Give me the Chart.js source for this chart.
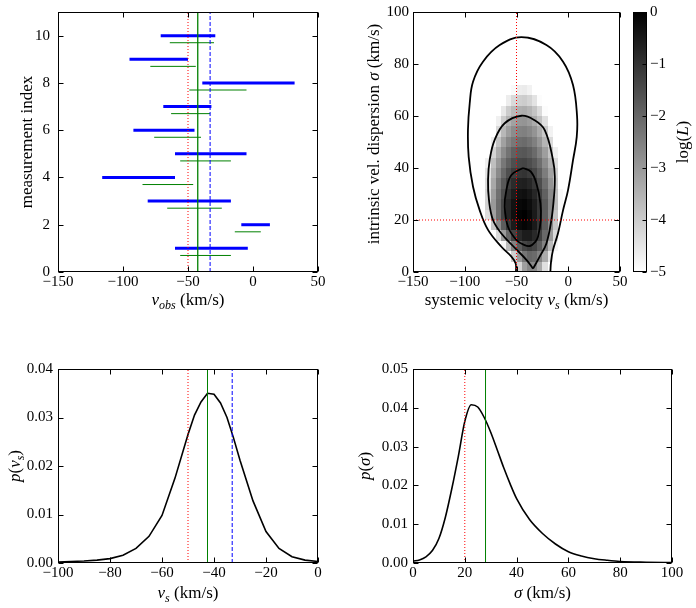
<!DOCTYPE html>
<html>
<head>
<meta charset="utf-8">
<script src="https://cdn.jsdelivr.net/npm/chart.js@4.4.0/dist/chart.umd.min.js"></script>
<style>
  body { margin: 0; background: #fff; }
  #wrap { position: relative; width: 696px; height: 608px; }
  canvas { position: absolute; }
</style>
</head>
<body>
<div id="wrap">
  <canvas id="cObs" width="330" height="310" style="left:0;top:0"></canvas>
  <canvas id="cLike" width="280" height="310" style="left:350px;top:0"></canvas>
  <canvas id="cBar" width="66" height="310" style="left:630px;top:0"></canvas>
  <canvas id="cVs" width="330" height="268" style="left:0;top:340px"></canvas>
  <canvas id="cSig" width="346" height="268" style="left:350px;top:340px"></canvas>
</div>
<script>
// ---------------- data ----------------
// reference values
const trueVs = -50;
const meanVs = -42.5;
const medianVs = -33;
const trueSigma = 20;
const meanSigma = 28;

// measurements (blue = observed interval, green = second estimate)
const blueY  = [1, 2, 3, 4, 5, 6, 7, 8, 9, 10];
const blueLo = [-60, -9, -81, -116, -60, -92, -69, -39, -95, -71];
const blueHi = [-4, 13, -17, -60, -5, -45, -32, 32, -50, -29];
const greenY  = [0.7, 1.7, 2.7, 3.7, 4.7, 5.7, 6.7, 7.7, 8.7, 9.7];
const greenLo = [-56, -14, -66, -85, -56, -76, -63, -49, -79, -64];
const greenHi = [-17, 6, -24, -46, -17, -40, -33, -5, -44, -30];

// likelihood map: cells of 5 km/s (vs) by 4 km/s (sigma), log(L)
const heatVs  = [-80, -75, -70, -65, -60, -55, -50, -45, -40, -35, -30, -25, -20, -15, -10];
const heatSig = [0, 4, 8, 12, 16, 20, 24, 28, 32, 36, 40, 44, 48, 52, 56, 60, 64, 68];
const heatDv = 5, heatDs = 4;
const logL = [
  [-5,-5,-5,-5,-5,-5,-4.15,-3.1,-2.65,-2.7,-3.3,-4.4,-5,-5,-5],
  [-5,-5,-5,-5,-5,-4.05,-3.0,-2.3,-2.0,-2.1,-2.55,-3.35,-4.55,-5,-5],
  [-5,-5,-5,-4.8,-3.65,-2.55,-1.8,-1.35,-1.2,-1.35,-1.8,-2.55,-3.65,-4.8,-5],
  [-5,-5,-4.3,-3.05,-2.05,-1.3,-0.8,-0.55,-0.55,-0.8,-1.3,-2.05,-3.05,-4.3,-5],
  [-5,-3.9,-2.75,-1.8,-1.05,-0.5,-0.2,-0.1,-0.2,-0.5,-1.05,-1.8,-2.75,-3.9,-5],
  [-4.35,-3.15,-2.15,-1.3,-0.7,-0.3,-0.05,0,-0.15,-0.5,-1.05,-1.8,-2.7,-3.85,-5],
  [-4.1,-3.0,-2.1,-1.35,-0.75,-0.35,-0.15,-0.1,-0.25,-0.55,-1.05,-1.75,-2.6,-3.65,-4.85],
  [-4.15,-3.1,-2.2,-1.5,-0.95,-0.55,-0.35,-0.3,-0.45,-0.75,-1.25,-1.9,-2.7,-3.7,-4.85],
  [-4.3,-3.3,-2.4,-1.75,-1.2,-0.85,-0.65,-0.6,-0.75,-1.05,-1.5,-2.15,-2.9,-3.9,-5],
  [-4.45,-3.5,-2.7,-2.05,-1.55,-1.2,-1.05,-1.0,-1.15,-1.4,-1.85,-2.45,-3.15,-4.05,-5],
  [-4.7,-3.75,-3.0,-2.35,-1.9,-1.55,-1.4,-1.35,-1.5,-1.75,-2.15,-2.75,-3.45,-4.3,-5],
  [-5,-4.15,-3.35,-2.75,-2.25,-1.9,-1.75,-1.7,-1.85,-2.1,-2.55,-3.1,-3.85,-4.7,-5],
  [-5,-4.65,-3.8,-3.15,-2.65,-2.35,-2.15,-2.1,-2.25,-2.5,-2.95,-3.55,-4.3,-5,-5],
  [-5,-5,-4.25,-3.6,-3.1,-2.75,-2.55,-2.5,-2.65,-2.9,-3.35,-3.95,-4.75,-5,-5],
  [-5,-5,-4.7,-4.0,-3.5,-3.15,-2.95,-2.9,-3.05,-3.35,-3.8,-4.4,-5,-5,-5],
  [-5,-5,-5,-4.55,-4.0,-3.65,-3.45,-3.4,-3.55,-3.85,-4.3,-4.95,-5,-5,-5],
  [-5,-5,-5,-5,-4.65,-4.25,-4.05,-4.0,-4.15,-4.45,-4.95,-5,-5,-5,-5],
  [-5,-5,-5,-5,-5,-4.9,-4.65,-4.6,-4.75,-5,-5,-5,-5,-5,-5]
];

// contours [vs, sigma]
const outerContour = [[-50.5,0],[-50.8,3.3],[-54.9,5.9],[-64.6,9.7],[-77.5,16.2],[-85.6,23.8],[-92,32.8],
  [-96.2,44.3],[-96.9,54.6],[-95.2,64.9],[-92,73.2],[-82.4,80.9],[-66.2,87.3],[-45.3,90.3],[-21.1,87.3],
  [-5,80.9],[4.6,71.9],[8.5,60],[8.2,52],[4.6,43],[-0.2,31.5],[-5,23.8],[-9.9,14.9],[-14.7,8.5],[-16.6,4],[-17.3,0]];
const midContour = [[-34,1.3],[-40,4.5],[-53.4,10],[-64,14.5],[-72.7,20],[-76.6,27.7],[-77.5,35.4],[-75.9,43.1],
  [-71.1,50.8],[-61.4,57.2],[-45.3,60.1],[-33,58.5],[-22.7,54.6],[-14.7,43],[-13,36.7],[-13.8,29],[-16.3,20],
  [-21.1,11],[-27.6,5.9],[-34,1.3]];
const innerContour = [[-43.7,40],[-54.9,37.3],[-59.8,31.5],[-61.4,25.1],[-58.2,17.4],[-50.1,12.3],[-43,10.5],
  [-37,10],[-32,11.5],[-29.2,13.6],[-26.6,20],[-26.9,26.4],[-30.8,34.1],[-36,38.5],[-43.7,40]];

// marginal of vs
const vsGrid = [-100,-95,-90,-85,-80,-75,-70,-65,-60,-55,-50,-47.5,-45,-42.5,-40,-37.5,-35,-32.5,-30,-25,-20,-15,-10,-5,0];
const pVs = [0.0002,0.0003,0.0004,0.0006,0.0009,0.0016,0.0030,0.0055,0.0098,0.0175,0.0265,0.0305,0.0332,0.0350,
  0.0348,0.0330,0.0300,0.0258,0.0212,0.0128,0.0065,0.0030,0.0013,0.0006,0.0003];

// marginal of sigma
const sigGrid = [0,2.5,5,7.5,10,12.5,15,17.5,20,22.5,25,27.5,30,32.5,35,37.5,40,45,50,55,60,65,70,75,80,90,100];
const pSig = [0.0005,0.0008,0.0016,0.0032,0.0063,0.0118,0.0192,0.0275,0.0365,0.0408,0.0402,0.0375,0.0337,0.0292,
  0.0246,0.0204,0.0166,0.0112,0.0076,0.0049,0.0029,0.0018,0.0011,0.0007,0.0004,0.0002,0.0001];

// tick labels
const obsXTicks = [-150, -100, -50, 0, 50];
const obsYTicks = [0, 2, 4, 6, 8, 10];
const likeYTicks = [0, 20, 40, 60, 80, 100];
const barTicks = [-5, -4, -3, -2, -1, 0];
const vsXTicks = [-100, -80, -60, -40, -20, 0];
const vsYTicks = [0, 0.01, 0.02, 0.03, 0.04];
const sigXTicks = [0, 20, 40, 60, 80, 100];
const sigYTicks = [0, 0.01, 0.02, 0.03, 0.04, 0.05];

// ---------------- helpers ----------------
Chart.defaults.font.family = "'Liberation Serif', serif";
Chart.defaults.font.size = 15;
Chart.defaults.color = '#000';
Chart.defaults.animation = false;
Chart.defaults.responsive = false;
Chart.defaults.devicePixelRatio = 1;
Chart.defaults.plugins.legend.display = false;
Chart.defaults.plugins.tooltip.enabled = false;

const RED = '#ff0000', GREEN = '#008000', BLUE = '#0000ff';
const minus = s => String(s).replace('-', '\u2212');

function axis(min, max, ticks, fmt, pad, fitSize, extra) {
  return Object.assign({
    type: 'linear', min: min, max: max,
    grid: { display: false, drawTicks: false },
    border: { display: false },
    ticks: { padding: pad, maxRotation: 0, autoSkip: false, callback: v => minus(fmt(v)) },
    afterBuildTicks: s => { s.ticks = ticks.map(v => ({ value: v })); },
    afterFit: s => {
      if (s.isHorizontal()) s.height = fitSize; else s.width = fitSize;
      // keep the plot area where the layout puts it
      s.paddingTop = s.paddingBottom = s.paddingLeft = s.paddingRight = 0;
    }
  }, extra || {});
}

function lineDs(pts, color, width, dash, extra) {
  return Object.assign({
    data: pts, borderColor: color, borderWidth: width, borderDash: dash || [],
    showLine: true, pointRadius: 0, fill: false, tension: 0
  }, extra || {});
}
const seg = (x0, x1, y0, y1) => [{ x: x0, y: y0 }, { x: x1, y: y1 }];
const toPts = arr => arr.map(p => ({ x: p[0], y: p[1] }));

function drawRich(ctx, segs, x, y, rot) {
  const font = st => (st.includes('i') ? 'italic ' : '') + (st.includes('s') ? 12 : 17) + "px 'Liberation Serif'";
  ctx.save();
  ctx.translate(x, y);
  if (rot) ctx.rotate(-Math.PI / 2);
  let w = 0;
  segs.forEach(([t, st]) => { ctx.font = font(st); w += ctx.measureText(t).width; });
  let cx = -w / 2;
  ctx.fillStyle = '#000';
  ctx.textBaseline = 'alphabetic';
  segs.forEach(([t, st]) => {
    ctx.font = font(st);
    ctx.fillText(t, cx, st.includes('s') ? 9 : 5);
    cx += ctx.measureText(t).width;
  });
  ctx.restore();
}

// frame with inward ticks + axis titles
function decor(cfg) {
  return {
    id: 'decor',
    afterDatasetsDraw(chart) {
      const { ctx, chartArea: a, scales } = chart;
      const L = Math.round(a.left) + 0.5, R = Math.round(a.right) - 0.5;
      const T = Math.round(a.top) + 0.5, B = Math.round(a.bottom) - 0.5;
      ctx.save();
      ctx.strokeStyle = '#000';
      ctx.lineWidth = 1;
      ctx.strokeRect(L, T, R - L, B - T);
      ctx.beginPath();
      const tl = cfg.tick || 5;
      if (scales.x.options.display !== false) {
        scales.x.ticks.forEach(t => {
          const p = Math.round(scales.x.getPixelForValue(t.value)) + 0.5;
          ctx.moveTo(p, B); ctx.lineTo(p, B - tl);
          ctx.moveTo(p, T); ctx.lineTo(p, T + tl);
        });
      }
      scales.y.ticks.forEach(t => {
        const p = Math.round(scales.y.getPixelForValue(t.value)) + 0.5;
        if (!cfg.rightOnly) { ctx.moveTo(L, p); ctx.lineTo(L + tl, p); }
        ctx.moveTo(R, p); ctx.lineTo(R - tl, p);
      });
      ctx.stroke();
      ctx.restore();
      const cxm = (a.left + a.right) / 2, cym = (a.top + a.bottom) / 2 + (cfg.yOff || 0);
      if (cfg.xl) drawRich(ctx, cfg.xl, cxm, a.bottom + cfg.xdy, false);
      if (cfg.yl) drawRich(ctx, cfg.yl, cfg.right ? a.right + cfg.ydx : a.left - cfg.ydx, cym, true);
    }
  };
}

// likelihood cells
const heat = {
  id: 'heat',
  beforeDatasetsDraw(chart) {
    const { ctx, chartArea: a, scales: { x, y } } = chart;
    ctx.save();
    ctx.beginPath();
    ctx.rect(a.left, a.top, a.width, a.height);
    ctx.clip();
    logL.forEach((row, j) => row.forEach((v, i) => {
      if (v <= -5) return;
      const g = Math.round(255 * Math.min(1, -v / 5));
      const x0 = Math.round(x.getPixelForValue(heatVs[i]));
      const x1 = Math.round(x.getPixelForValue(heatVs[i] + heatDv));
      const y0 = Math.round(y.getPixelForValue(heatSig[j]));
      const y1 = Math.round(y.getPixelForValue(heatSig[j] + heatDs));
      ctx.fillStyle = 'rgb(' + g + ',' + g + ',' + g + ')';
      ctx.fillRect(x0, y1, x1 - x0, y0 - y1);
    }));
    ctx.restore();
  }
};

// colour bar gradient
const barFill = {
  id: 'barFill',
  beforeDatasetsDraw(chart) {
    const { ctx, chartArea: a, scales: { y } } = chart;
    const g = ctx.createLinearGradient(0, y.getPixelForValue(-5), 0, y.getPixelForValue(0));
    g.addColorStop(0, '#ffffff');
    g.addColorStop(1, '#000000');
    ctx.save();
    ctx.fillStyle = g;
    ctx.fillRect(a.left, a.top, a.width, a.height);
    ctx.restore();
  }
};

const asInt = v => String(v);
const two = v => v.toFixed(2);

// ---------------- top left: measurements ----------------
new Chart(document.getElementById('cObs'), {
  type: 'scatter',
  data: {
    datasets: [
      lineDs(seg(trueVs, trueVs, 0, 11), RED, 1, [1, 2]),
      lineDs(seg(meanVs, meanVs, 0, 11), GREEN, 1.3),
      lineDs(seg(medianVs, medianVs, 0, 11), BLUE, 1, [4, 2]),
      ...blueY.map((y, i) => lineDs(seg(blueLo[i], blueHi[i], y, y), BLUE, 3)),
      ...greenY.map((y, i) => lineDs(seg(greenLo[i], greenHi[i], y, y), GREEN, 1))
    ]
  },
  options: {
    layout: { padding: { left: 0, right: 12, top: 12, bottom: 0 } },
    scales: {
      x: axis(-150, 50, obsXTicks, asInt, 1, 38),
      y: axis(0, 11, obsYTicks, asInt, 8, 58)
    }
  },
  plugins: [decor({
    xl: [['v', 'i'], ['obs', 'is'], [' (km/s)', '']], xdy: 28,
    yl: [['measurement index', '']], ydx: 31
  })]
});

// ---------------- top right: likelihood ----------------
new Chart(document.getElementById('cLike'), {
  type: 'scatter',
  data: {
    datasets: [
      lineDs(seg(trueVs, trueVs, 0, 100), RED, 1, [1, 2]),
      lineDs(seg(-150, 50, trueSigma, trueSigma), RED, 1, [1, 2]),
      lineDs(toPts(innerContour), '#000', 1.8, [], { tension: 0.4, borderJoinStyle: 'round' }),
      lineDs(toPts(midContour), '#000', 1.8, [], { tension: 0.4, borderJoinStyle: 'round' }),
      lineDs(toPts(outerContour), '#000', 1.8, [], { tension: 0.4, borderJoinStyle: 'round' })
    ]
  },
  options: {
    layout: { padding: { left: 0, right: 10, top: 12, bottom: 0 } },
    scales: {
      x: axis(-150, 50, obsXTicks, asInt, 1, 38),
      y: axis(0, 100, likeYTicks, asInt, 4, 63)
    }
  },
  plugins: [heat, decor({
    xl: [['systemic velocity ', ''], ['v', 'i'], ['s', 'is'], [' (km/s)', '']], xdy: 28,
    yl: [['intrinsic vel. dispersion ', ''], ['\u03c3', 'i'], [' (km/s)', '']], ydx: 39, yOff: -8
  })]
});

// ---------------- colour bar ----------------
new Chart(document.getElementById('cBar'), {
  type: 'scatter',
  data: { datasets: [] },
  options: {
    layout: { padding: { left: 3, right: 0, top: 12, bottom: 38 } },
    scales: {
      x: { type: 'linear', display: false, min: 0, max: 1 },
      y: axis(-5, 0, barTicks, asInt, 3, 49, { position: 'right' })
    }
  },
  plugins: [barFill, decor({
    rightOnly: true, tick: 4,
    yl: [['log(', ''], ['L', 'i'], [')', '']], ydx: 36, right: true
  })]
});

// ---------------- bottom left: p(vs) ----------------
new Chart(document.getElementById('cVs'), {
  type: 'scatter',
  data: {
    datasets: [
      lineDs(seg(trueVs, trueVs, 0, 0.04), RED, 1, [1, 2]),
      lineDs(seg(meanVs, meanVs, 0, 0.04), GREEN, 1),
      lineDs(seg(medianVs, medianVs, 0, 0.04), BLUE, 1, [4, 2]),
      lineDs(vsGrid.map((v, i) => ({ x: v, y: pVs[i] })), '#000', 1.6)
    ]
  },
  options: {
    layout: { padding: { left: 0, right: 12, top: 29, bottom: 0 } },
    scales: {
      x: axis(-100, 0, vsXTicks, asInt, 1, 45),
      y: axis(0, 0.04, vsYTicks, two, 5, 58)
    }
  },
  plugins: [decor({
    xl: [['v', 'i'], ['s', 'is'], [' (km/s)', '']], xdy: 30,
    yl: [['p', 'i'], ['(', ''], ['v', 'i'], ['s', 'is'], [')', '']], ydx: 43
  })]
});

// ---------------- bottom right: p(sigma) ----------------
new Chart(document.getElementById('cSig'), {
  type: 'scatter',
  data: {
    datasets: [
      lineDs(seg(trueSigma, trueSigma, 0, 0.05), RED, 1, [1, 2]),
      lineDs(seg(meanSigma, meanSigma, 0, 0.05), GREEN, 1),
      lineDs(sigGrid.map((v, i) => ({ x: v, y: pSig[i] })), '#000', 1.6, [], { cubicInterpolationMode: 'monotone' })
    ]
  },
  options: {
    layout: { padding: { left: 0, right: 24, top: 29, bottom: 0 } },
    scales: {
      x: axis(0, 100, sigXTicks, asInt, 1, 45),
      y: axis(0, 0.05, sigYTicks, two, 5, 63)
    }
  },
  plugins: [decor({
    xl: [['\u03c3', 'i'], [' (km/s)', '']], xdy: 30,
    yl: [['p', 'i'], ['(', ''], ['\u03c3', 'i'], [')', '']], ydx: 48
  })]
});
</script>
</body>
</html>
